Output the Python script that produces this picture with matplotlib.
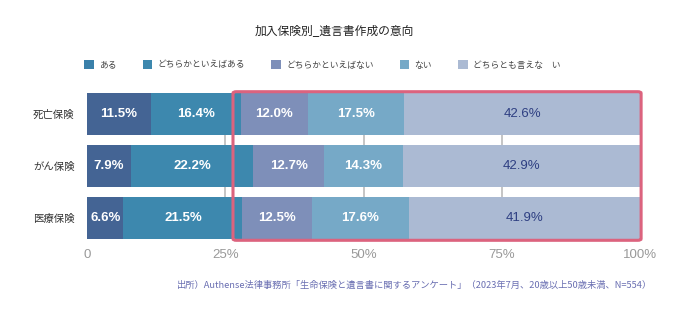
import matplotlib
matplotlib.use("Agg")
import matplotlib.pyplot as plt
from matplotlib.patches import FancyBboxPatch, Patch
import numpy as np

plt.rcParams['font.family'] = ['Noto Sans CJK JP', 'DejaVu Sans']

# data
categories = ['死亡保険', 'がん保険', '医療保険']
series = ['ある', 'どちらかといえばある', 'どちらかといえばない', 'ない', 'どちらとも言えな　い']
aru = [11.5, 7.9, 6.6]
dochiraka_aru = [16.4, 22.2, 21.5]
dochiraka_nai = [12.0, 12.7, 12.5]
nai = [17.5, 14.3, 17.6]
ienai = [42.6, 42.9, 41.9]
xticks = [0, 25, 50, 75, 100]
xticklabels = ['0', '25%', '50%', '75%', '100%']

colors = ['#446494', '#3d88ae', '#7e8fb9', '#76a9c7', '#abbad3']
legend_colors = ['#3a80aa', '#3d88ae', '#7e8fb9', '#76a9c7', '#abbad3']
label_colors = ['white', 'white', 'white', 'white', '#2e3f82']
label_weights = ['bold', 'bold', 'bold', 'bold', 'normal']

fig = plt.figure(figsize=(6.98, 3.23), dpi=100)
ax = fig.add_axes([87 / 698, (323 - 239) / 323, 553 / 698, 146 / 323])

y = np.arange(len(categories))
left = np.zeros(len(categories))
for vals, c, lc, lw in zip([aru, dochiraka_aru, dochiraka_nai, nai, ienai], colors,
                           label_colors, label_weights):
    vals = np.array(vals)
    ax.barh(y, vals, left=left, height=0.81, color=c, zorder=2)
    for yi, v, l in zip(y, vals, left):
        ax.text(l + v / 2, yi, f'{v:.1f}%', ha='center', va='center',
                color=lc, fontsize=9.5, fontfamily='Liberation Sans', fontweight=lw, zorder=3)
    left += vals

ax.set_xlim(0, 100)
ax.set_ylim(2.405, -0.405)
ax.set_yticks(y)
ax.set_yticklabels(categories, fontsize=7.5, color='#333333')
ax.set_xticks(xticks)
ax.set_xticklabels(xticklabels, fontsize=9.5, color='#999999', fontfamily='Liberation Sans')
ax.tick_params(length=0, pad=9)
ax.tick_params(axis='x', pad=7)
for x in [25, 50, 75]:
    ax.axvline(x, color='#bbbbbb', lw=1.2, zorder=1)
for s in ax.spines.values():
    s.set_visible(False)

# highlight box
box = FancyBboxPatch((26.4, -0.43), 73.8, 2.86, boxstyle='round,pad=0,rounding_size=0.6',
                     fill=False, edgecolor='#dc637e', lw=2.2, clip_on=False, zorder=4,
                     mutation_aspect=0.05)
ax.add_patch(box)

fig.text(255 / 698, 1 - 31 / 323, '加入保険別_遺言書作成の意向', ha='left', va='center',
         fontsize=8.5, color='#222222')

handles = [Patch(facecolor=c, edgecolor='none') for c in legend_colors]
fig.legend(handles, series, loc='center left', bbox_to_anchor=(76 / 698, 1 - 65 / 323),
           ncol=5, frameon=False, fontsize=6.3, handlelength=1.1, handleheight=1.1,
           handletextpad=0.6, columnspacing=3.0, labelcolor='#444444')

fig.text(652 / 698, 1 - 285 / 323,
         '出所）Authense法律事務所「生命保険と遺言書に関するアンケート」（2023年7月、20歳以上50歳未満、N=554）',
         ha='right', va='center', fontsize=6.7, color='#6a6fb2')

fig.savefig('out.png', dpi=100, facecolor='white')
